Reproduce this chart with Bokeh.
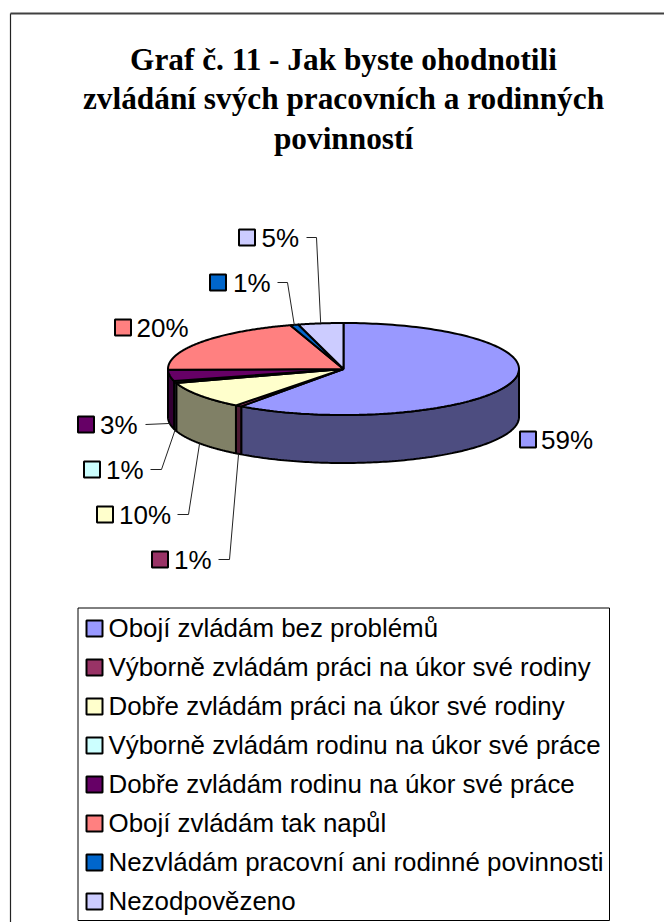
import numpy as np
from bokeh.plotting import figure
from bokeh.models import Range1d
from bokeh.core.properties import value
from bokeh.embed import file_html
from bokeh.resources import INLINE

title_lines = ["Graf č. 11 - Jak byste ohodnotili", "zvládání svých pracovních a rodinných", "povinností"]
categories = ["Obojí zvládám bez problémů", "Výborně zvládám práci na úkor své rodiny",
              "Dobře zvládám práci na úkor své rodiny", "Výborně zvládám rodinu na úkor své práce",
              "Dobře zvládám rodinu na úkor své práce", "Obojí zvládám tak napůl",
              "Nezvládám pracovní ani rodinné povinnosti", "Nezodpovězeno"]
slice_values = [59.9, 0.6, 9.6, 0.7, 3.9, 20.4, 0.75, 4.15]
value_labels = ["59%", "1%", "10%", "1%", "3%", "20%", "1%", "5%"]
top_colors = ["#9999FF", "#993366", "#FFFFCC", "#CCFFFF", "#660066", "#FF8080", "#0066CC", "#CCCCFF"]
side_colors = ["#4D4D80", "#4D1A33", "#808066", "#668080", "#330033", "#804040", "#003366", "#666680"]

# layout of the pie (page pixels)
CX, CY, RX, RY, DEPTH = 343.0, 368.5, 175.5, 46.0, 48.0
# data-label layout: swatch left, label centre y, elbow x (None = no leader)
label_left = [519, 151, 96, 83, 77, 114, 209, 238]
label_y = [439, 559, 514, 469, 424, 327, 282, 237]
label_gap = [4.5, 5.5, 5.5, 5.5, 5.5, 5, 6.5, 6]
elbow_x = [None, 229, 188, 161, None, None, 287, 316]
leader_start = [None, 218, 177, 150, 145, None, 277, 306]

BLACK = "#000000"
p = figure(width=664, height=922, x_range=Range1d(0, 664), y_range=Range1d(922, 0),
           output_backend="svg", toolbar_location=None, min_border=0,
           x_axis_type=None, y_axis_type=None, outline_line_color=None,
           background_fill_color="white", border_fill_color="white")
p.grid.visible = False

# outer frame
p.line([10, 10], [922, 13], line_color="#222222", line_width=1.2)
p.line([10, 664], [13, 13], line_color="#404040", line_width=2)

# title
for txt, y in zip(title_lines, [58.5, 97.5, 137.5]):
    p.text([343], [y], text=[txt], text_font=value("Liberation Serif"), text_font_style="bold",
           text_font_size="31.3px", text_align="center", text_baseline="middle", text_color=BLACK)


def ell(theta_deg, dy=0.0):
    t = np.radians(theta_deg)
    return CX + RX * np.sin(t), CY - RY * np.cos(t) + dy


shares = np.array(slice_values) / sum(slice_values) * 360.0
ends = np.cumsum(shares)
starts = ends - shares

# rim (front half only)
for a, b, col in zip(starts, ends, side_colors):
    a2, b2 = max(a, 90.0), min(b, 270.0)
    if b2 <= a2:
        continue
    th = np.linspace(a2, b2, 120)
    x1, y1 = ell(th)
    x2, y2 = ell(th[::-1], DEPTH)
    p.patch(np.r_[x1, x2], np.r_[y1, y2], fill_color=col, line_color=BLACK, line_width=2)

# top
for a, b, col in zip(starts, ends, top_colors):
    th = np.linspace(a, b, 160)
    x1, y1 = ell(th)
    p.patch(np.r_[CX, x1], np.r_[CY, y1], fill_color=col, line_color=BLACK, line_width=2)

# leaders
mids = (starts + ends) / 2
for i, m in enumerate(mids):
    if leader_start[i] is None:
        continue
    dy = DEPTH if 90 < m < 270 else 0.0
    ax, ay = ell(m, dy)
    if elbow_x[i] is None:
        xs, ys = [leader_start[i], ax], [label_y[i], ay]
    else:
        xs, ys = [leader_start[i], elbow_x[i], ax], [label_y[i], label_y[i], ay]
    p.line(xs, ys, line_color="#222222", line_width=1)

# data labels
p.rect([x + 8.5 for x in label_left], label_y, width=16, height=16, fill_color=top_colors,
       line_color=BLACK, line_width=2)
p.text([x + 17 + g for x, g in zip(label_left, label_gap)], label_y, text=value_labels,
       text_font=value("Liberation Sans"), text_font_size="26px", text_align="left",
       text_baseline="middle", text_color=BLACK)

# legend
p.quad(left=[77.5], right=[609], top=[607.5], bottom=[920], fill_color="white", line_color=BLACK, line_width=1)
legend_y = [628, 667, 706, 745, 784, 823, 862, 901]
p.rect([94] * 8, legend_y, width=16, height=16, fill_color=top_colors, line_color=BLACK, line_width=2)
p.text([108] * 8, [y - 0.5 for y in legend_y], text=categories, text_font=value("Liberation Sans"),
       text_font_size="25.9px", text_align="left", text_baseline="middle", text_color=BLACK)

open("out.html", "w").write(file_html(p, INLINE))
